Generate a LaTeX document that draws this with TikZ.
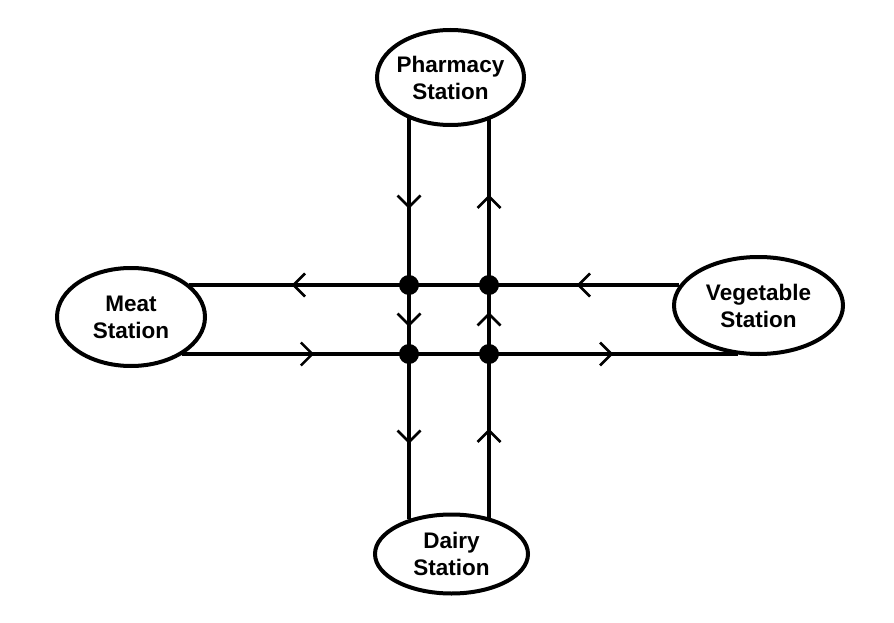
\documentclass[tikz,border=0pt]{standalone}
\usepackage{fontspec}
\setmainfont{Liberation Sans}
\usetikzlibrary{shapes.geometric,decorations.markings,backgrounds}
\tikzset{
  station/.style={draw, line width=4pt, fill=white, ellipse, inner sep=-6pt,
    align=center, font=\bfseries\fontsize{22.5}{27}\selectfont},
  road/.style={line width=4pt, postaction={decorate},
    decoration={markings, mark=at position #1 with {\draw[line width=2.6pt] (-6,11.5)--(5.5,0)--(-6,-11.5);}}},
  road/.default=0.5,
  plain/.style={line width=4pt},
  junction/.style={circle, fill=black, minimum size=20pt, inner sep=0pt}
}
\begin{document}
\begin{tikzpicture}[x=1pt,y=-1pt]
\useasboundingbox (0,0) rectangle (894,623);
% stations
\node[station, minimum width=147pt, minimum height=95pt] (ph) at (450.5,77.5) {Pharmacy\\Station};
\node[station, minimum width=148pt, minimum height=98pt] (me) at (131,317) {Meat\\Station};
\node[station, minimum width=169pt, minimum height=97pt] (ve) at (758.5,305.5) {Vegetable\\Station};
\node[station, minimum width=153pt, minimum height=79pt] (da) at (451.5,554) {Dairy\\Station};
% junctions
\node[junction] (j1) at (409,285) {};
\node[junction] (j2) at (489,285) {};
\node[junction] (j3) at (409,354) {};
\node[junction] (j4) at (489,354) {};
% road ends on the station borders
\coordinate (pL) at (409,118);
\coordinate (pR) at (489,119);
\coordinate (dL) at (409,519);
\coordinate (dR) at (489,518);
\coordinate (mT) at (189,285);
\coordinate (mB) at (182,354);
\coordinate (vT) at (679,285);
\coordinate (vB) at (738,354);
\begin{pgfonlayer}{background}
  % southbound (left vertical)
  \draw[road] (pL) -- (j1.center);
  \draw[road] (j1.center) -- (j3.center);
  \draw[road] (j3.center) -- (dL);
  % northbound (right vertical)
  \draw[road] (dR) -- (j4.center);
  \draw[road] (j4.center) -- (j2.center);
  \draw[road] (j2.center) -- (pR);
  % westbound (top horizontal)
  \draw[road] (vT) -- (j2.center);
  \draw[plain] (j2.center) -- (j1.center);
  \draw[road] (j1.center) -- (mT);
  % eastbound (bottom horizontal)
  \draw[road=0.55] (mB) -- (j3.center);
  \draw[plain] (j3.center) -- (j4.center);
  \draw[road=0.47] (j4.center) -- (vB);
\end{pgfonlayer}
\end{tikzpicture}
\end{document}
